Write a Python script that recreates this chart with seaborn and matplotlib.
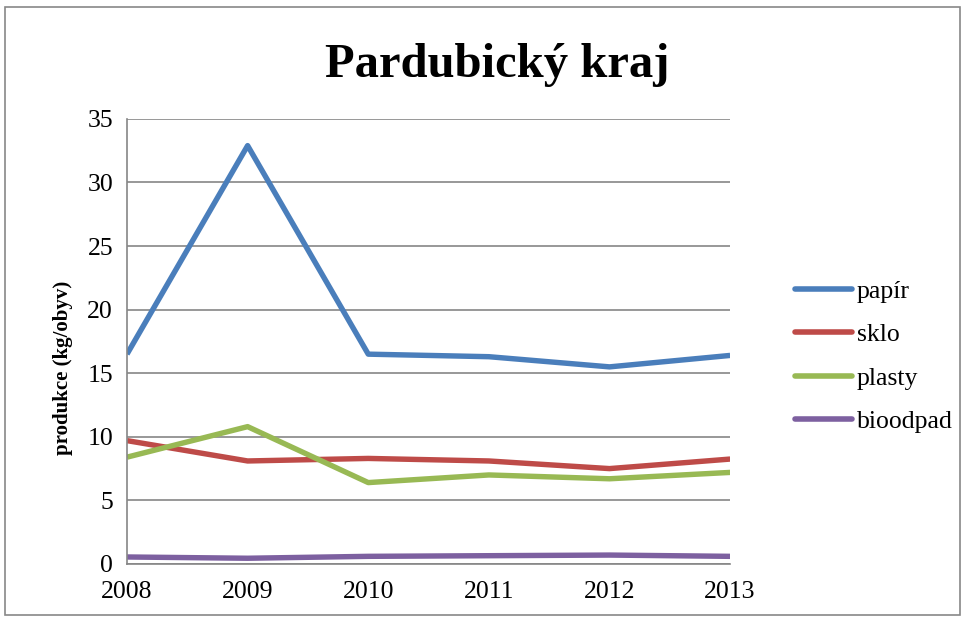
import numpy as np
import pandas as pd
import matplotlib
matplotlib.use("Agg")
import matplotlib.pyplot as plt
import seaborn as sns
from matplotlib.patches import Rectangle

# data
years = [2008, 2009, 2010, 2011, 2012, 2013]
papir = [16.5, 32.9, 16.5, 16.3, 15.5, 16.4]
sklo = [9.7, 8.1, 8.3, 8.1, 7.5, 8.25]
plasty = [8.4, 10.8, 6.4, 7.0, 6.7, 7.2]
bioodpad = [0.55, 0.45, 0.6, 0.65, 0.7, 0.6]

series_names = ["papír", "sklo", "plasty", "bioodpad"]
series_colors = ["#4a7ebb", "#be4b48", "#98b954", "#7d60a0"]
y_ticks = [0, 5, 10, 15, 20, 25, 30, 35]

df = pd.DataFrame({
    "rok": years * 4,
    "hodnota": papir + sklo + plasty + bioodpad,
    "druh": sum([[n] * len(years) for n in series_names], []),
})

sns.set_style("white")
plt.rcParams['font.family'] = ['Liberation Serif', 'DejaVu Serif']
plt.rcParams['text.color'] = 'black'

fig = plt.figure(figsize=(9.65, 6.19), dpi=100)
ax = fig.add_axes([0.1316, 0.0889, 0.625, 0.719])

sns.lineplot(data=df, x="rok", y="hodnota", hue="druh", hue_order=series_names,
             palette=series_colors, linewidth=3.9, ax=ax, legend=True,
             solid_capstyle="butt")

ax.set_xlim(2008, 2013)
ax.set_ylim(0, 35)
ax.set_xticks(years)
ax.set_xticklabels([str(y) for y in years])
ax.set_yticks(y_ticks)
ax.grid(axis='y', color='#868686', linewidth=1.2)
ax.set_axisbelow(True)
for s in ['top', 'right']:
    ax.spines[s].set_visible(False)
for s in ['left', 'bottom']:
    ax.spines[s].set_color('#868686')
    ax.spines[s].set_linewidth(1.2)
ax.tick_params(axis='both', direction='out', length=4, width=1.2, color='#868686',
               labelsize=18.5, labelcolor='black')
ax.tick_params(axis='x', pad=8)
ax.tick_params(axis='y', pad=6)
ax.set_xlabel("")
ax.set_ylabel("produkce (kg/obyv)", fontsize=15, fontweight='bold', color='black')
ax.yaxis.set_label_coords(-0.09, 0.44)

ax.set_title("Pardubický kraj", fontsize=35, fontweight='bold', pad=30, color='black',
             x=0.614)

leg = ax.legend(loc='center left', bbox_to_anchor=(1.108, 0.466), frameon=False,
                fontsize=18.5, handlelength=2.2, handletextpad=0.2, labelspacing=0.8,
                borderpad=0, borderaxespad=0)
for line in leg.get_lines():
    line.set_linewidth(4)
    line.set_solid_capstyle("round")

fig.patches.append(Rectangle((0.005, 0.006), 0.99, 0.982, transform=fig.transFigure,
                             fill=False, edgecolor='#888888', linewidth=1.2))

fig.savefig("out.png", dpi=100)
